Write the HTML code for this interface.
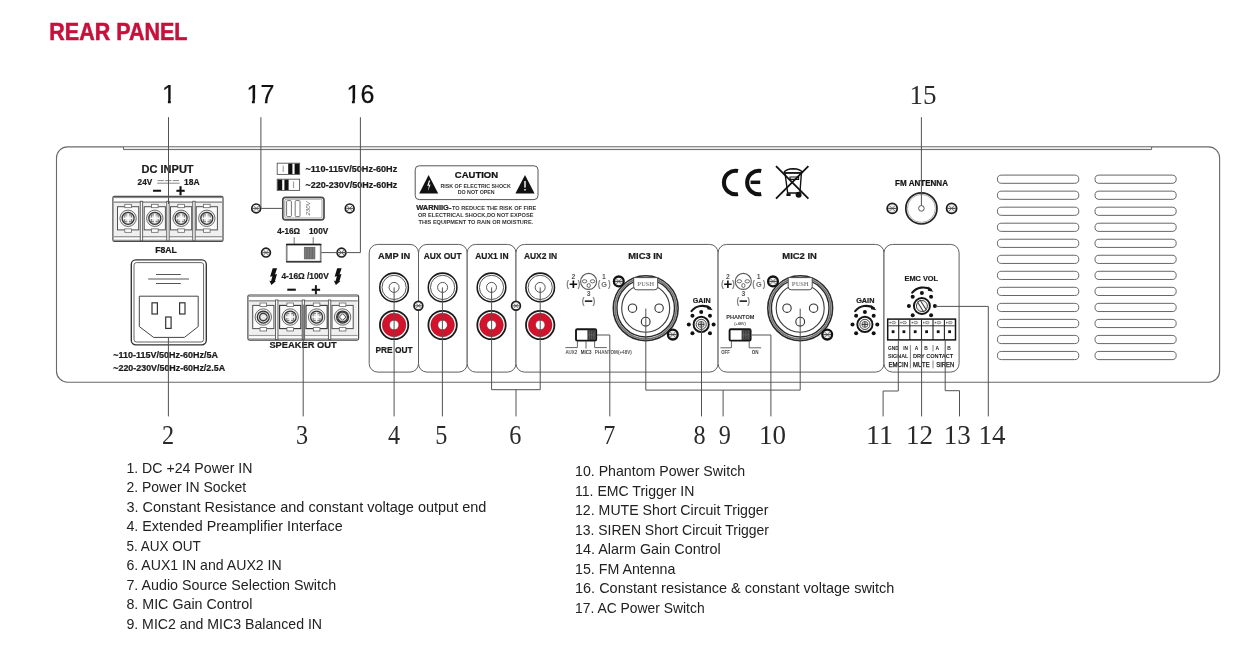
<!DOCTYPE html>
<html lang="en">
<head>
<meta charset="utf-8">
<title>Rear Panel</title>
<style>
html,body{margin:0;padding:0;background:#fff;}
body{width:1254px;height:648px;overflow:hidden;font-family:"Liberation Sans",Arial,sans-serif;}
svg{display:block;position:absolute;left:0;top:0;}
</style>
</head>
<body>
<svg width="1254" height="648" viewBox="0 0 1254 648" style="filter:blur(0.3px)">
<rect x="0" y="0" width="1254" height="648" fill="#ffffff"/>
<rect x="56.5" y="146.9" width="1163.1" height="235.29999999999998" rx="11" fill="#fff" stroke="#696969" stroke-width="1.1"/>
<rect x="123.5" y="147.4" width="1028.1" height="2.3" fill="#ececec" stroke="none"/>
<polyline points="123.5,146.9 123.5,149.6 1151.6,149.6 1151.6,146.9" stroke="#686868" stroke-width="1.0" fill="none" />
<text x="141.5" y="172.6" font-family='"Liberation Sans", Arial, sans-serif' font-size="10.6" font-weight="bold" fill="#1c1c1c" text-anchor="start" textLength="52.1" lengthAdjust="spacingAndGlyphs"  stroke="#1c1c1c" stroke-width="0.22">DC INPUT</text>
<text x="137.6" y="185.4" font-family='"Liberation Sans", Arial, sans-serif' font-size="9.4" font-weight="bold" fill="#1c1c1c" text-anchor="start" textLength="14.6" lengthAdjust="spacingAndGlyphs"  stroke="#1c1c1c" stroke-width="0.22">24V</text>
<text x="184.0" y="185.4" font-family='"Liberation Sans", Arial, sans-serif' font-size="9.4" font-weight="bold" fill="#1c1c1c" text-anchor="start" textLength="15.6" lengthAdjust="spacingAndGlyphs"  stroke="#1c1c1c" stroke-width="0.22">18A</text>
<line x1="157.6" y1="180.6" x2="163.79999999999998" y2="180.6" stroke="#666" stroke-width="0.8" />
<line x1="165.2" y1="180.6" x2="171.39999999999998" y2="180.6" stroke="#666" stroke-width="0.8" />
<line x1="172.79999999999998" y1="180.6" x2="178.99999999999997" y2="180.6" stroke="#666" stroke-width="0.8" />
<line x1="157.2" y1="183.2" x2="179.6" y2="183.2" stroke="#666" stroke-width="0.8" />
<text x="156.7" y="196.19" font-family='"Liberation Sans", Arial, sans-serif' font-size="15.6" font-weight="bold" fill="#111" text-anchor="middle" stroke="#111" stroke-width="0.3">−</text>
<text x="180.6" y="196.19" font-family='"Liberation Sans", Arial, sans-serif' font-size="15.6" font-weight="bold" fill="#111" text-anchor="middle" stroke="#111" stroke-width="0.3">+</text>
<rect x="112.9" y="196.3" width="110.1" height="45.099999999999994" rx="1.5" stroke="#4a4a4a" stroke-width="1.2" fill="#fff" />
<rect x="113.5" y="196.9" width="108.89999999999999" height="1.2" rx="0" stroke="none" stroke-width="0" fill="#8c8c8c" />
<rect x="113.9" y="201.3" width="108.1" height="1.8" rx="0" stroke="none" stroke-width="0" fill="#9c9c9c" />
<rect x="113.9" y="236.0" width="108.1" height="1.4" rx="0" stroke="none" stroke-width="0" fill="#9a9a9a" />
<rect x="113.9" y="239.70000000000002" width="108.1" height="1.2" rx="0" stroke="none" stroke-width="0" fill="#8c8c8c" />
<rect x="114.10000000000001" y="203.10000000000002" width="107.69999999999999" height="32.89999999999998" rx="0" stroke="none" stroke-width="0" fill="#efefef" />
<rect x="140.25" y="201.3" width="2.4" height="39.49999999999999" rx="0" stroke="#555" stroke-width="0.9" fill="#f6f6f6" />
<rect x="166.75" y="201.3" width="2.4" height="39.49999999999999" rx="0" stroke="#555" stroke-width="0.9" fill="#f6f6f6" />
<rect x="192.75" y="201.3" width="2.4" height="39.49999999999999" rx="0" stroke="#555" stroke-width="0.9" fill="#f6f6f6" />
<rect x="117.5" y="206.7" width="21.2" height="23.2" rx="0" stroke="#505050" stroke-width="1.0" fill="#fbfbfb" />
<rect x="124.8" y="204.3" width="6.6" height="3.4" rx="0" stroke="#666" stroke-width="0.8" fill="#fff" />
<rect x="124.8" y="228.9" width="6.6" height="3.4" rx="0" stroke="#666" stroke-width="0.8" fill="#fff" />
<circle cx="128.1" cy="218.3" r="8.2" stroke="#6a6a6a" stroke-width="1.0" fill="#f0f0f0" />
<circle cx="128.1" cy="218.3" r="6.0" stroke="#333" stroke-width="1.25" fill="#dcdcdc" />
<rect x="124.7" y="214.9" width="6.8" height="6.8" rx="0" stroke="#6a6a6a" stroke-width="0.8" fill="#dedede" />
<line x1="123.69999999999999" y1="218.3" x2="132.5" y2="218.3" stroke="#fff" stroke-width="1.5" />
<line x1="128.1" y1="213.9" x2="128.1" y2="222.70000000000002" stroke="#fff" stroke-width="1.5" />
<rect x="144.2" y="206.7" width="21.2" height="23.2" rx="0" stroke="#505050" stroke-width="1.0" fill="#fbfbfb" />
<rect x="151.5" y="204.3" width="6.6" height="3.4" rx="0" stroke="#666" stroke-width="0.8" fill="#fff" />
<rect x="151.5" y="228.9" width="6.6" height="3.4" rx="0" stroke="#666" stroke-width="0.8" fill="#fff" />
<circle cx="154.8" cy="218.3" r="8.2" stroke="#6a6a6a" stroke-width="1.0" fill="#f0f0f0" />
<circle cx="154.8" cy="218.3" r="6.0" stroke="#333" stroke-width="1.25" fill="#dcdcdc" />
<rect x="151.4" y="214.9" width="6.8" height="6.8" rx="0" stroke="#6a6a6a" stroke-width="0.8" fill="#dedede" />
<line x1="150.4" y1="218.3" x2="159.20000000000002" y2="218.3" stroke="#fff" stroke-width="1.5" />
<line x1="154.8" y1="213.9" x2="154.8" y2="222.70000000000002" stroke="#fff" stroke-width="1.5" />
<rect x="170.5" y="206.7" width="21.2" height="23.2" rx="0" stroke="#505050" stroke-width="1.0" fill="#fbfbfb" />
<rect x="177.8" y="204.3" width="6.6" height="3.4" rx="0" stroke="#666" stroke-width="0.8" fill="#fff" />
<rect x="177.8" y="228.9" width="6.6" height="3.4" rx="0" stroke="#666" stroke-width="0.8" fill="#fff" />
<circle cx="181.1" cy="218.3" r="8.2" stroke="#6a6a6a" stroke-width="1.0" fill="#f0f0f0" />
<circle cx="181.1" cy="218.3" r="6.0" stroke="#333" stroke-width="1.25" fill="#dcdcdc" />
<rect x="177.7" y="214.9" width="6.8" height="6.8" rx="0" stroke="#6a6a6a" stroke-width="0.8" fill="#dedede" />
<line x1="176.7" y1="218.3" x2="185.5" y2="218.3" stroke="#fff" stroke-width="1.5" />
<line x1="181.1" y1="213.9" x2="181.1" y2="222.70000000000002" stroke="#fff" stroke-width="1.5" />
<rect x="196.2" y="206.7" width="21.2" height="23.2" rx="0" stroke="#505050" stroke-width="1.0" fill="#fbfbfb" />
<rect x="203.5" y="204.3" width="6.6" height="3.4" rx="0" stroke="#666" stroke-width="0.8" fill="#fff" />
<rect x="203.5" y="228.9" width="6.6" height="3.4" rx="0" stroke="#666" stroke-width="0.8" fill="#fff" />
<circle cx="206.8" cy="218.3" r="8.2" stroke="#6a6a6a" stroke-width="1.0" fill="#f0f0f0" />
<circle cx="206.8" cy="218.3" r="6.0" stroke="#333" stroke-width="1.25" fill="#dcdcdc" />
<rect x="203.4" y="214.9" width="6.8" height="6.8" rx="0" stroke="#6a6a6a" stroke-width="0.8" fill="#dedede" />
<line x1="202.4" y1="218.3" x2="211.20000000000002" y2="218.3" stroke="#fff" stroke-width="1.5" />
<line x1="206.8" y1="213.9" x2="206.8" y2="222.70000000000002" stroke="#fff" stroke-width="1.5" />
<text x="155.2" y="253.0" font-family='"Liberation Sans", Arial, sans-serif' font-size="8.4" font-weight="bold" fill="#1c1c1c" text-anchor="start" textLength="21.7" lengthAdjust="spacingAndGlyphs"  stroke="#1c1c1c" stroke-width="0.22">F8AL</text>
<rect x="131.3" y="259.8" width="75.0" height="85.0" rx="4.5" stroke="#333" stroke-width="1.35" fill="#fff" />
<rect x="134.0" y="262.6" width="69.6" height="79.4" rx="2.5" stroke="#555" stroke-width="0.9" fill="none" />
<line x1="156.0" y1="274.5" x2="180.8" y2="274.5" stroke="#555" stroke-width="1.0" />
<line x1="148.2" y1="279.0" x2="189.0" y2="279.0" stroke="#555" stroke-width="1.0" />
<line x1="156.0" y1="283.5" x2="180.8" y2="283.5" stroke="#555" stroke-width="1.0" />
<polygon points="139.3,296.2 198.2,296.2 198.2,326.6 184.4,337.4 153.6,337.4 139.3,326.6" fill="#fff" stroke="#444" stroke-width="1"/>
<rect x="152.0" y="302.8" width="5.4" height="11.2" rx="0" stroke="#333" stroke-width="1.2" fill="#fff" />
<rect x="179.6" y="302.8" width="5.4" height="11.2" rx="0" stroke="#333" stroke-width="1.2" fill="#fff" />
<rect x="165.7" y="317.0" width="5.4" height="11.4" rx="0" stroke="#333" stroke-width="1.2" fill="#fff" />
<text x="113.3" y="357.6" font-family='"Liberation Sans", Arial, sans-serif' font-size="8.3" font-weight="bold" fill="#1c1c1c" text-anchor="start" textLength="104.6" lengthAdjust="spacingAndGlyphs"  stroke="#1c1c1c" stroke-width="0.22">~110-115V/50Hz-60Hz/5A</text>
<text x="113.3" y="371.2" font-family='"Liberation Sans", Arial, sans-serif' font-size="8.3" font-weight="bold" fill="#1c1c1c" text-anchor="start" textLength="111.8" lengthAdjust="spacingAndGlyphs"  stroke="#1c1c1c" stroke-width="0.22">~220-230V/50Hz-60Hz/2.5A</text>
<rect x="277.2" y="163.2" width="22.4" height="11.2" rx="0" stroke="#555" stroke-width="0.9" fill="#fff" />
<rect x="288.2" y="163.6" width="4.2" height="10.4" rx="0" stroke="none" stroke-width="0" fill="#111" />
<rect x="294.59999999999997" y="163.6" width="4.6" height="10.4" rx="0" stroke="none" stroke-width="0" fill="#111" />
<line x1="283.2" y1="165.6" x2="283.2" y2="172.0" stroke="#777" stroke-width="0.8" />
<rect x="277.2" y="179.2" width="22.4" height="11.2" rx="0" stroke="#555" stroke-width="0.9" fill="#fff" />
<rect x="277.59999999999997" y="179.6" width="4.6" height="10.4" rx="0" stroke="none" stroke-width="0" fill="#111" />
<rect x="284.4" y="179.6" width="4.2" height="10.4" rx="0" stroke="none" stroke-width="0" fill="#111" />
<line x1="293.59999999999997" y1="181.6" x2="293.59999999999997" y2="188.0" stroke="#777" stroke-width="0.8" />
<text x="305.5" y="172.2" font-family='"Liberation Sans", Arial, sans-serif' font-size="8.4" font-weight="bold" fill="#1c1c1c" text-anchor="start" textLength="91.7" lengthAdjust="spacingAndGlyphs"  stroke="#1c1c1c" stroke-width="0.22">~110-115V/50Hz-60Hz</text>
<text x="305.5" y="188.0" font-family='"Liberation Sans", Arial, sans-serif' font-size="8.4" font-weight="bold" fill="#1c1c1c" text-anchor="start" textLength="91.7" lengthAdjust="spacingAndGlyphs"  stroke="#1c1c1c" stroke-width="0.22">~220-230V/50Hz-60Hz</text>
<rect x="282.8" y="197.3" width="41.2" height="22.6" rx="2.8" stroke="#4a4a4a" stroke-width="1.7" fill="#fff" />
<rect x="284.8" y="199.2" width="37.2" height="18.8" rx="1.6" stroke="#888" stroke-width="0.8" fill="none" />
<rect x="286.6" y="200.6" width="4.8" height="16.0" rx="1" stroke="#666" stroke-width="0.9" fill="#fff" />
<rect x="295.2" y="200.6" width="4.8" height="16.0" rx="1" stroke="#666" stroke-width="0.9" fill="#fff" />
<text transform="translate(310.2,215.6) rotate(-90)" font-family='"Liberation Sans", Arial, sans-serif' font-size="6.2" font-style="italic" fill="#555" textLength="14.2" lengthAdjust="spacingAndGlyphs">230V</text>
<circle cx="256.2" cy="208.4" r="4.4" stroke="#1e1e1e" stroke-width="1.7" fill="#f4f4f4" />
<line x1="253.64399999999998" y1="205.844" x2="258.756" y2="210.95600000000002" stroke="#666" stroke-width="0.9" />
<line x1="253.64399999999998" y1="210.95600000000002" x2="258.756" y2="205.844" stroke="#666" stroke-width="0.9" />
<line x1="252.79999999999998" y1="208.4" x2="259.59999999999997" y2="208.4" stroke="#444" stroke-width="0.9" />
<circle cx="349.7" cy="208.4" r="4.4" stroke="#1e1e1e" stroke-width="1.7" fill="#f4f4f4" />
<line x1="347.144" y1="205.844" x2="352.256" y2="210.95600000000002" stroke="#666" stroke-width="0.9" />
<line x1="347.144" y1="210.95600000000002" x2="352.256" y2="205.844" stroke="#666" stroke-width="0.9" />
<line x1="346.3" y1="208.4" x2="353.09999999999997" y2="208.4" stroke="#444" stroke-width="0.9" />
<text x="277.2" y="234.0" font-family='"Liberation Sans", Arial, sans-serif' font-size="8.2" font-weight="bold" fill="#1c1c1c" text-anchor="start" textLength="22.8" lengthAdjust="spacingAndGlyphs"  stroke="#1c1c1c" stroke-width="0.22">4-16Ω</text>
<text x="309.0" y="234.0" font-family='"Liberation Sans", Arial, sans-serif' font-size="8.2" font-weight="bold" fill="#1c1c1c" text-anchor="start" textLength="19.2" lengthAdjust="spacingAndGlyphs"  stroke="#1c1c1c" stroke-width="0.22">100V</text>
<line x1="294.2" y1="237.2" x2="294.2" y2="244.4" stroke="#555" stroke-width="0.8" />
<line x1="313.2" y1="237.2" x2="313.2" y2="244.4" stroke="#555" stroke-width="0.8" />
<rect x="286.7" y="244.5" width="34.0" height="17.2" rx="0.8" stroke="#858585" stroke-width="1.7" fill="#fff" />
<line x1="286.0" y1="244.5" x2="321.4" y2="244.5" stroke="#1c1c1c" stroke-width="1.5" />
<line x1="286.0" y1="261.7" x2="321.4" y2="261.7" stroke="#3a3a3a" stroke-width="1.4" />
<rect x="304.3" y="247.3" width="10.6" height="11.6" rx="0" stroke="#5a5a5a" stroke-width="0.7" fill="#7d7d7d" />
<line x1="306.9" y1="247.6" x2="306.9" y2="258.6" stroke="#5a5a5a" stroke-width="0.7" />
<line x1="309.6" y1="247.6" x2="309.6" y2="258.6" stroke="#5a5a5a" stroke-width="0.7" />
<line x1="312.3" y1="247.6" x2="312.3" y2="258.6" stroke="#5a5a5a" stroke-width="0.7" />
<circle cx="266.0" cy="252.6" r="4.4" stroke="#1e1e1e" stroke-width="1.7" fill="#f4f4f4" />
<line x1="263.444" y1="250.04399999999998" x2="268.556" y2="255.156" stroke="#666" stroke-width="0.9" />
<line x1="263.444" y1="255.156" x2="268.556" y2="250.04399999999998" stroke="#666" stroke-width="0.9" />
<line x1="262.6" y1="252.6" x2="269.4" y2="252.6" stroke="#444" stroke-width="0.9" />
<circle cx="341.5" cy="252.6" r="4.4" stroke="#1e1e1e" stroke-width="1.7" fill="#f4f4f4" />
<line x1="338.944" y1="250.04399999999998" x2="344.056" y2="255.156" stroke="#666" stroke-width="0.9" />
<line x1="338.944" y1="255.156" x2="344.056" y2="250.04399999999998" stroke="#666" stroke-width="0.9" />
<line x1="338.1" y1="252.6" x2="344.9" y2="252.6" stroke="#444" stroke-width="0.9" />
<polygon transform="translate(270.1,268.2)" points="2.6,0 7.0,0 4.9,6.2 6.9,5.8 4.8,13.0 6.0,12.8 1.3,16.9 -0.8,12.4 0.9,13.0 2.3,8.0 0.0,8.6" fill="#111"/>
<polygon transform="translate(334.6,268.2)" points="2.6,0 7.0,0 4.9,6.2 6.9,5.8 4.8,13.0 6.0,12.8 1.3,16.9 -0.8,12.4 0.9,13.0 2.3,8.0 0.0,8.6" fill="#111"/>
<text x="281.4" y="279.3" font-family='"Liberation Sans", Arial, sans-serif' font-size="9.4" font-weight="bold" fill="#1c1c1c" text-anchor="start" textLength="47.4" lengthAdjust="spacingAndGlyphs"  stroke="#1c1c1c" stroke-width="0.22">4-16Ω /100V</text>
<text x="291.5" y="295.36" font-family='"Liberation Sans", Arial, sans-serif' font-size="16.4" font-weight="bold" fill="#111" text-anchor="middle" stroke="#111" stroke-width="0.3">−</text>
<text x="316.0" y="295.23" font-family='"Liberation Sans", Arial, sans-serif' font-size="16.0" font-weight="bold" fill="#111" text-anchor="middle" stroke="#111" stroke-width="0.3">+</text>
<rect x="247.9" y="295.0" width="110.70000000000002" height="45.10000000000002" rx="1.5" stroke="#4a4a4a" stroke-width="1.2" fill="#fff" />
<rect x="248.5" y="295.6" width="109.50000000000001" height="1.2" rx="0" stroke="none" stroke-width="0" fill="#8c8c8c" />
<rect x="248.9" y="300.0" width="108.70000000000002" height="1.8" rx="0" stroke="none" stroke-width="0" fill="#9c9c9c" />
<rect x="248.9" y="334.70000000000005" width="108.70000000000002" height="1.4" rx="0" stroke="none" stroke-width="0" fill="#9a9a9a" />
<rect x="248.9" y="338.40000000000003" width="108.70000000000002" height="1.2" rx="0" stroke="none" stroke-width="0" fill="#8c8c8c" />
<rect x="249.1" y="301.8" width="108.30000000000001" height="32.900000000000034" rx="0" stroke="none" stroke-width="0" fill="#efefef" />
<rect x="275.55" y="300.0" width="2.4" height="39.50000000000002" rx="0" stroke="#555" stroke-width="0.9" fill="#f6f6f6" />
<rect x="302.2" y="300.0" width="2.4" height="39.50000000000002" rx="0" stroke="#555" stroke-width="0.9" fill="#f6f6f6" />
<rect x="328.4" y="300.0" width="2.4" height="39.50000000000002" rx="0" stroke="#555" stroke-width="0.9" fill="#f6f6f6" />
<rect x="252.7" y="305.4" width="21.2" height="23.2" rx="0" stroke="#505050" stroke-width="1.0" fill="#fbfbfb" />
<rect x="260.0" y="303.0" width="6.6" height="3.4" rx="0" stroke="#666" stroke-width="0.8" fill="#fff" />
<rect x="260.0" y="327.6" width="6.6" height="3.4" rx="0" stroke="#666" stroke-width="0.8" fill="#fff" />
<circle cx="263.3" cy="317.0" r="8.2" stroke="#6a6a6a" stroke-width="1.0" fill="#f0f0f0" />
<circle cx="263.3" cy="317.0" r="6.0" stroke="#333" stroke-width="1.25" fill="#dcdcdc" />
<circle cx="263.3" cy="317.0" r="3.7" stroke="#3a3a3a" stroke-width="1.4" fill="#e4e4e4" />
<line x1="261.3" y1="317.0" x2="266.7" y2="317.0" stroke="#f4f4f4" stroke-width="1.4" />
<rect x="279.6" y="305.4" width="21.2" height="23.2" rx="0" stroke="#333" stroke-width="1.1" fill="#fbfbfb" />
<rect x="286.9" y="303.0" width="6.6" height="3.4" rx="0" stroke="#666" stroke-width="0.8" fill="#fff" />
<rect x="286.9" y="327.6" width="6.6" height="3.4" rx="0" stroke="#666" stroke-width="0.8" fill="#fff" />
<circle cx="290.2" cy="317.0" r="8.2" stroke="#6a6a6a" stroke-width="1.0" fill="#f0f0f0" />
<circle cx="290.2" cy="317.0" r="6.0" stroke="#333" stroke-width="1.25" fill="#dcdcdc" />
<rect x="286.8" y="313.6" width="6.8" height="6.8" rx="0" stroke="#6a6a6a" stroke-width="0.8" fill="#dedede" />
<line x1="285.8" y1="317.0" x2="294.59999999999997" y2="317.0" stroke="#fff" stroke-width="1.5" />
<line x1="290.2" y1="312.6" x2="290.2" y2="321.4" stroke="#fff" stroke-width="1.5" />
<rect x="306.0" y="305.4" width="21.2" height="23.2" rx="0" stroke="#333" stroke-width="1.1" fill="#fbfbfb" />
<rect x="313.3" y="303.0" width="6.6" height="3.4" rx="0" stroke="#666" stroke-width="0.8" fill="#fff" />
<rect x="313.3" y="327.6" width="6.6" height="3.4" rx="0" stroke="#666" stroke-width="0.8" fill="#fff" />
<circle cx="316.6" cy="317.0" r="8.2" stroke="#6a6a6a" stroke-width="1.0" fill="#f0f0f0" />
<circle cx="316.6" cy="317.0" r="6.0" stroke="#333" stroke-width="1.25" fill="#dcdcdc" />
<rect x="313.2" y="313.6" width="6.8" height="6.8" rx="0" stroke="#6a6a6a" stroke-width="0.8" fill="#dedede" />
<line x1="312.20000000000005" y1="317.0" x2="321.0" y2="317.0" stroke="#fff" stroke-width="1.5" />
<line x1="316.6" y1="312.6" x2="316.6" y2="321.4" stroke="#fff" stroke-width="1.5" />
<rect x="332.0" y="305.4" width="21.2" height="23.2" rx="0" stroke="#505050" stroke-width="1.0" fill="#fbfbfb" />
<rect x="339.3" y="303.0" width="6.6" height="3.4" rx="0" stroke="#666" stroke-width="0.8" fill="#fff" />
<rect x="339.3" y="327.6" width="6.6" height="3.4" rx="0" stroke="#666" stroke-width="0.8" fill="#fff" />
<circle cx="342.6" cy="317.0" r="8.2" stroke="#6a6a6a" stroke-width="1.0" fill="#f0f0f0" />
<circle cx="342.6" cy="317.0" r="6.0" stroke="#333" stroke-width="1.25" fill="#dcdcdc" />
<circle cx="342.6" cy="317.0" r="4.9" stroke="#3a3a3a" stroke-width="1.3" fill="#cfcfcf" />
<polyline points="342.6,313.7 345.90000000000003,317.0 342.6,320.3 339.3,317.0 342.6,313.7" stroke="#444" stroke-width="0.9" fill="#fff" />
<text x="269.4" y="347.9" font-family='"Liberation Sans", Arial, sans-serif' font-size="9.4" font-weight="bold" fill="#1c1c1c" text-anchor="start" textLength="67.2" lengthAdjust="spacingAndGlyphs"  stroke="#1c1c1c" stroke-width="0.22">SPEAKER OUT</text>
<rect x="369.2" y="244.4" width="49.30000000000001" height="127.70000000000002" rx="8.5" stroke="#5e5e5e" stroke-width="1.0" fill="#fff" />
<rect x="418.5" y="244.4" width="48.69999999999999" height="127.70000000000002" rx="8.5" stroke="#5e5e5e" stroke-width="1.0" fill="#fff" />
<rect x="467.2" y="244.4" width="48.80000000000001" height="127.70000000000002" rx="8.5" stroke="#5e5e5e" stroke-width="1.0" fill="#fff" />
<rect x="516.0" y="244.4" width="202.10000000000002" height="127.70000000000002" rx="8.5" stroke="#5e5e5e" stroke-width="1.0" fill="#fff" />
<rect x="718.1" y="244.4" width="165.89999999999998" height="127.70000000000002" rx="8.5" stroke="#5e5e5e" stroke-width="1.0" fill="#fff" />
<rect x="884.0" y="244.4" width="75.10000000000002" height="127.70000000000002" rx="8.5" stroke="#5e5e5e" stroke-width="1.0" fill="#fff" />
<text x="378.0" y="259.3" font-family='"Liberation Sans", Arial, sans-serif' font-size="9.4" font-weight="bold" fill="#1c1c1c" text-anchor="start" textLength="32.3" lengthAdjust="spacingAndGlyphs"  stroke="#1c1c1c" stroke-width="0.22">AMP IN</text>
<text x="423.7" y="259.3" font-family='"Liberation Sans", Arial, sans-serif' font-size="9.4" font-weight="bold" fill="#1c1c1c" text-anchor="start" textLength="37.9" lengthAdjust="spacingAndGlyphs"  stroke="#1c1c1c" stroke-width="0.22">AUX OUT</text>
<text x="475.2" y="259.3" font-family='"Liberation Sans", Arial, sans-serif' font-size="9.4" font-weight="bold" fill="#1c1c1c" text-anchor="start" textLength="33.4" lengthAdjust="spacingAndGlyphs"  stroke="#1c1c1c" stroke-width="0.22">AUX1 IN</text>
<text x="523.9" y="259.3" font-family='"Liberation Sans", Arial, sans-serif' font-size="9.4" font-weight="bold" fill="#1c1c1c" text-anchor="start" textLength="33.3" lengthAdjust="spacingAndGlyphs"  stroke="#1c1c1c" stroke-width="0.22">AUX2 IN</text>
<text x="628.3" y="259.3" font-family='"Liberation Sans", Arial, sans-serif' font-size="9.4" font-weight="bold" fill="#1c1c1c" text-anchor="start" textLength="34.3" lengthAdjust="spacingAndGlyphs"  stroke="#1c1c1c" stroke-width="0.22">MIC3 IN</text>
<text x="782.3" y="259.3" font-family='"Liberation Sans", Arial, sans-serif' font-size="9.4" font-weight="bold" fill="#1c1c1c" text-anchor="start" textLength="34.5" lengthAdjust="spacingAndGlyphs"  stroke="#1c1c1c" stroke-width="0.22">MIC2 IN</text>
<circle cx="394.1" cy="287.4" r="14.3" stroke="#1a1a1a" stroke-width="1.55" fill="#fff" />
<circle cx="394.1" cy="287.4" r="12.1" stroke="#444" stroke-width="0.9" fill="#fff" />
<circle cx="394.1" cy="287.4" r="5.0" stroke="#444" stroke-width="0.9" fill="#fff" />
<circle cx="394.1" cy="325.0" r="14.2" stroke="#1a1a1a" stroke-width="1.8" fill="#fff" />
<circle cx="394.1" cy="325.0" r="11.8" stroke="#7a1020" stroke-width="0.5" fill="#d4122b" />
<circle cx="394.1" cy="325.0" r="4.8" stroke="#8a1020" stroke-width="0.6" fill="#fff" />
<circle cx="442.6" cy="287.4" r="14.3" stroke="#1a1a1a" stroke-width="1.55" fill="#fff" />
<circle cx="442.6" cy="287.4" r="12.1" stroke="#444" stroke-width="0.9" fill="#fff" />
<circle cx="442.6" cy="287.4" r="5.0" stroke="#444" stroke-width="0.9" fill="#fff" />
<circle cx="442.6" cy="325.0" r="14.2" stroke="#1a1a1a" stroke-width="1.8" fill="#fff" />
<circle cx="442.6" cy="325.0" r="11.8" stroke="#7a1020" stroke-width="0.5" fill="#d4122b" />
<circle cx="442.6" cy="325.0" r="4.8" stroke="#8a1020" stroke-width="0.6" fill="#fff" />
<circle cx="491.5" cy="287.4" r="14.3" stroke="#1a1a1a" stroke-width="1.55" fill="#fff" />
<circle cx="491.5" cy="287.4" r="12.1" stroke="#444" stroke-width="0.9" fill="#fff" />
<circle cx="491.5" cy="287.4" r="5.0" stroke="#444" stroke-width="0.9" fill="#fff" />
<circle cx="491.5" cy="325.0" r="14.2" stroke="#1a1a1a" stroke-width="1.8" fill="#fff" />
<circle cx="491.5" cy="325.0" r="11.8" stroke="#7a1020" stroke-width="0.5" fill="#d4122b" />
<circle cx="491.5" cy="325.0" r="4.8" stroke="#8a1020" stroke-width="0.6" fill="#fff" />
<circle cx="540.2" cy="287.4" r="14.3" stroke="#1a1a1a" stroke-width="1.55" fill="#fff" />
<circle cx="540.2" cy="287.4" r="12.1" stroke="#444" stroke-width="0.9" fill="#fff" />
<circle cx="540.2" cy="287.4" r="5.0" stroke="#444" stroke-width="0.9" fill="#fff" />
<circle cx="540.2" cy="325.0" r="14.2" stroke="#1a1a1a" stroke-width="1.8" fill="#fff" />
<circle cx="540.2" cy="325.0" r="11.8" stroke="#7a1020" stroke-width="0.5" fill="#d4122b" />
<circle cx="540.2" cy="325.0" r="4.8" stroke="#8a1020" stroke-width="0.6" fill="#fff" />
<text x="375.5" y="353.0" font-family='"Liberation Sans", Arial, sans-serif' font-size="9.4" font-weight="bold" fill="#1c1c1c" text-anchor="start" textLength="37.0" lengthAdjust="spacingAndGlyphs"  stroke="#1c1c1c" stroke-width="0.22">PRE OUT</text>
<circle cx="418.4" cy="305.8" r="4.4" stroke="#1e1e1e" stroke-width="1.7" fill="#f4f4f4" />
<line x1="415.844" y1="303.244" x2="420.95599999999996" y2="308.356" stroke="#666" stroke-width="0.9" />
<line x1="415.844" y1="308.356" x2="420.95599999999996" y2="303.244" stroke="#666" stroke-width="0.9" />
<line x1="415.0" y1="305.8" x2="421.79999999999995" y2="305.8" stroke="#444" stroke-width="0.9" />
<circle cx="516.0" cy="305.8" r="4.4" stroke="#1e1e1e" stroke-width="1.7" fill="#f4f4f4" />
<line x1="513.444" y1="303.244" x2="518.556" y2="308.356" stroke="#666" stroke-width="0.9" />
<line x1="513.444" y1="308.356" x2="518.556" y2="303.244" stroke="#666" stroke-width="0.9" />
<line x1="512.6" y1="305.8" x2="519.4" y2="305.8" stroke="#444" stroke-width="0.9" />
<circle cx="588.6" cy="281.40000000000003" r="8.0" stroke="#5a5a5a" stroke-width="1.1" fill="#fff" />
<ellipse cx="584.6" cy="281.3" rx="2.3" ry="1.6" fill="#fff" stroke="#5a5a5a" stroke-width="0.9"/>
<ellipse cx="592.6" cy="281.3" rx="2.3" ry="1.6" fill="#fff" stroke="#5a5a5a" stroke-width="0.9"/>
<ellipse cx="588.7" cy="285.5" rx="1.6" ry="2.0" fill="#fff" stroke="#5a5a5a" stroke-width="0.9"/>
<text x="573.3000000000001" y="279.2" font-family='"Liberation Sans", Arial, sans-serif' font-size="6.8" font-weight="bold" fill="#555" text-anchor="middle" >2</text>
<text font-family='"Liberation Sans", Arial, sans-serif' font-weight="bold" text-anchor="middle"><tspan x="567.6" y="287.4" font-size="8.5" fill="#808080">(</tspan><tspan x="573.3" y="289.19" font-size="15.0" fill="#111">+</tspan><tspan x="578.8" y="287.4" font-size="8.5" fill="#808080">)</tspan></text>
<text x="604.0" y="279.0" font-family='"Liberation Sans", Arial, sans-serif' font-size="6.8" font-weight="bold" fill="#555" text-anchor="middle" >1</text>
<text font-family='"Liberation Sans", Arial, sans-serif' font-weight="bold" text-anchor="middle"><tspan x="599.0" y="287.0" font-size="8.2" fill="#808080">(</tspan><tspan x="604.2" y="286.7" font-size="7.4" fill="#6a6a6a">G</tspan><tspan x="609.4" y="287.0" font-size="8.2" fill="#808080">)</tspan></text>
<text x="588.6" y="296.2" font-family='"Liberation Sans", Arial, sans-serif' font-size="6.8" font-weight="bold" fill="#555" text-anchor="middle" >3</text>
<text font-family='"Liberation Sans", Arial, sans-serif' font-weight="bold" text-anchor="middle"><tspan x="583.2" y="303.7" font-size="8.5" fill="#808080">(</tspan><tspan x="588.7" y="306.13" font-size="14.8" fill="#222">−</tspan><tspan x="594.0" y="303.7" font-size="8.5" fill="#808080">)</tspan></text>
<circle cx="743.3" cy="281.40000000000003" r="8.0" stroke="#5a5a5a" stroke-width="1.1" fill="#fff" />
<ellipse cx="739.3" cy="281.3" rx="2.3" ry="1.6" fill="#fff" stroke="#5a5a5a" stroke-width="0.9"/>
<ellipse cx="747.3" cy="281.3" rx="2.3" ry="1.6" fill="#fff" stroke="#5a5a5a" stroke-width="0.9"/>
<ellipse cx="743.4" cy="285.5" rx="1.6" ry="2.0" fill="#fff" stroke="#5a5a5a" stroke-width="0.9"/>
<text x="728.0" y="279.2" font-family='"Liberation Sans", Arial, sans-serif' font-size="6.8" font-weight="bold" fill="#555" text-anchor="middle" >2</text>
<text font-family='"Liberation Sans", Arial, sans-serif' font-weight="bold" text-anchor="middle"><tspan x="722.3" y="287.4" font-size="8.5" fill="#808080">(</tspan><tspan x="728.0" y="289.19" font-size="15.0" fill="#111">+</tspan><tspan x="733.5" y="287.4" font-size="8.5" fill="#808080">)</tspan></text>
<text x="758.6999999999999" y="279.0" font-family='"Liberation Sans", Arial, sans-serif' font-size="6.8" font-weight="bold" fill="#555" text-anchor="middle" >1</text>
<text font-family='"Liberation Sans", Arial, sans-serif' font-weight="bold" text-anchor="middle"><tspan x="753.7" y="287.0" font-size="8.2" fill="#808080">(</tspan><tspan x="758.9" y="286.7" font-size="7.4" fill="#6a6a6a">G</tspan><tspan x="764.1" y="287.0" font-size="8.2" fill="#808080">)</tspan></text>
<text x="743.3" y="296.2" font-family='"Liberation Sans", Arial, sans-serif' font-size="6.8" font-weight="bold" fill="#555" text-anchor="middle" >3</text>
<text font-family='"Liberation Sans", Arial, sans-serif' font-weight="bold" text-anchor="middle"><tspan x="737.9" y="303.7" font-size="8.5" fill="#808080">(</tspan><tspan x="743.4" y="306.13" font-size="14.8" fill="#222">−</tspan><tspan x="748.7" y="303.7" font-size="8.5" fill="#808080">)</tspan></text>
<circle cx="645.7" cy="308.2" r="32.4" stroke="#2a2a2a" stroke-width="1.6" fill="#fff" />
<circle cx="645.7" cy="308.2" r="30.6" stroke="#777" stroke-width="1.7" fill="none" />
<circle cx="645.7" cy="308.2" r="28.8" stroke="#2a2a2a" stroke-width="1.4" fill="none" />
<circle cx="645.7" cy="308.2" r="24.0" stroke="#3a3a3a" stroke-width="1.1" fill="none" />
<path d="M633.7,277.59999999999997 h24 v9.2 q0,3 -3,3 h-18 q-3,0 -3,-3 z" fill="#fff" stroke="#4a4a4a" stroke-width="1.0"/>
<text x="637.3000000000001" y="285.7" font-family='"Liberation Serif", "Times New Roman", serif' font-size="5.8" font-weight="bold" fill="#888" text-anchor="start" textLength="16.8" lengthAdjust="spacingAndGlyphs" >PUSH</text>
<circle cx="632.5" cy="308.2" r="4.2" stroke="#333" stroke-width="1.1" fill="#fff" />
<circle cx="659.1" cy="308.2" r="4.2" stroke="#333" stroke-width="1.1" fill="#fff" />
<circle cx="645.7" cy="321.7" r="4.4" stroke="#333" stroke-width="1.1" fill="#fff" />
<circle cx="800.2" cy="308.2" r="32.4" stroke="#2a2a2a" stroke-width="1.6" fill="#fff" />
<circle cx="800.2" cy="308.2" r="30.6" stroke="#777" stroke-width="1.7" fill="none" />
<circle cx="800.2" cy="308.2" r="28.8" stroke="#2a2a2a" stroke-width="1.4" fill="none" />
<circle cx="800.2" cy="308.2" r="24.0" stroke="#3a3a3a" stroke-width="1.1" fill="none" />
<path d="M788.2,277.59999999999997 h24 v9.2 q0,3 -3,3 h-18 q-3,0 -3,-3 z" fill="#fff" stroke="#4a4a4a" stroke-width="1.0"/>
<text x="791.8000000000001" y="285.7" font-family='"Liberation Serif", "Times New Roman", serif' font-size="5.8" font-weight="bold" fill="#888" text-anchor="start" textLength="16.8" lengthAdjust="spacingAndGlyphs" >PUSH</text>
<circle cx="787.0" cy="308.2" r="4.2" stroke="#333" stroke-width="1.1" fill="#fff" />
<circle cx="813.6" cy="308.2" r="4.2" stroke="#333" stroke-width="1.1" fill="#fff" />
<circle cx="800.2" cy="321.7" r="4.4" stroke="#333" stroke-width="1.1" fill="#fff" />
<circle cx="618.8" cy="281.4" r="4.9" stroke="#111" stroke-width="2.3" fill="#ededed" />
<line x1="616.0999999999999" y1="278.7" x2="621.5" y2="284.09999999999997" stroke="#666" stroke-width="0.9" />
<line x1="616.0999999999999" y1="284.09999999999997" x2="621.5" y2="278.7" stroke="#666" stroke-width="0.9" />
<line x1="614.9" y1="281.4" x2="622.6999999999999" y2="281.4" stroke="#444" stroke-width="1.0" />
<circle cx="672.8" cy="334.6" r="4.9" stroke="#111" stroke-width="2.3" fill="#ededed" />
<line x1="670.0999999999999" y1="331.90000000000003" x2="675.5" y2="337.3" stroke="#666" stroke-width="0.9" />
<line x1="670.0999999999999" y1="337.3" x2="675.5" y2="331.90000000000003" stroke="#666" stroke-width="0.9" />
<line x1="668.9" y1="334.6" x2="676.6999999999999" y2="334.6" stroke="#444" stroke-width="1.0" />
<circle cx="773.0" cy="281.4" r="4.9" stroke="#111" stroke-width="2.3" fill="#ededed" />
<line x1="770.3" y1="278.7" x2="775.7" y2="284.09999999999997" stroke="#666" stroke-width="0.9" />
<line x1="770.3" y1="284.09999999999997" x2="775.7" y2="278.7" stroke="#666" stroke-width="0.9" />
<line x1="769.1" y1="281.4" x2="776.9" y2="281.4" stroke="#444" stroke-width="1.0" />
<circle cx="827.2" cy="334.6" r="4.9" stroke="#111" stroke-width="2.3" fill="#ededed" />
<line x1="824.5" y1="331.90000000000003" x2="829.9000000000001" y2="337.3" stroke="#666" stroke-width="0.9" />
<line x1="824.5" y1="337.3" x2="829.9000000000001" y2="331.90000000000003" stroke="#666" stroke-width="0.9" />
<line x1="823.3000000000001" y1="334.6" x2="831.1" y2="334.6" stroke="#444" stroke-width="1.0" />
<text x="692.8" y="303.0" font-family='"Liberation Sans", Arial, sans-serif' font-size="7.2" font-weight="bold" fill="#1c1c1c" text-anchor="start" textLength="17.8" lengthAdjust="spacingAndGlyphs"  stroke="#1c1c1c" stroke-width="0.22">GAIN</text>
<circle cx="713.6" cy="324.4" r="2.0" stroke="none" stroke-width="0" fill="#111" />
<circle cx="709.97" cy="315.63" r="2.0" stroke="none" stroke-width="0" fill="#111" />
<circle cx="701.2" cy="312.0" r="2.0" stroke="none" stroke-width="0" fill="#111" />
<circle cx="692.43" cy="315.63" r="2.0" stroke="none" stroke-width="0" fill="#111" />
<circle cx="688.8" cy="324.4" r="2.0" stroke="none" stroke-width="0" fill="#111" />
<circle cx="692.43" cy="333.17" r="2.0" stroke="none" stroke-width="0" fill="#111" />
<circle cx="709.97" cy="333.17" r="2.0" stroke="none" stroke-width="0" fill="#111" />
<circle cx="701.2" cy="324.4" r="7.6" stroke="#151515" stroke-width="1.9" fill="#fff" />
<circle cx="701.2" cy="324.4" r="5.1" stroke="#444" stroke-width="1.0" fill="#f2f2f2" />
<circle cx="701.2" cy="324.4" r="3.0" stroke="#555" stroke-width="0.8" fill="#ddd" />
<line x1="698.2" y1="324.4" x2="704.2" y2="324.4" stroke="#333" stroke-width="1.0" />
<line x1="701.2" y1="321.4" x2="701.2" y2="327.4" stroke="#333" stroke-width="1.0" />
<path d="M691.50,311.10 A14.2,14.2 0 0 1 710.20,308.10" stroke="#151515" stroke-width="2.1" fill="none" stroke-linecap="round"/>
<polygon points="707.80,305.00 712.80,310.20 707.20,309.20" fill="#151515"/>
<text x="856.2" y="303.0" font-family='"Liberation Sans", Arial, sans-serif' font-size="7.2" font-weight="bold" fill="#1c1c1c" text-anchor="start" textLength="18.2" lengthAdjust="spacingAndGlyphs"  stroke="#1c1c1c" stroke-width="0.22">GAIN</text>
<circle cx="877.3" cy="324.4" r="2.0" stroke="none" stroke-width="0" fill="#111" />
<circle cx="873.67" cy="315.63" r="2.0" stroke="none" stroke-width="0" fill="#111" />
<circle cx="864.9" cy="312.0" r="2.0" stroke="none" stroke-width="0" fill="#111" />
<circle cx="856.13" cy="315.63" r="2.0" stroke="none" stroke-width="0" fill="#111" />
<circle cx="852.5" cy="324.4" r="2.0" stroke="none" stroke-width="0" fill="#111" />
<circle cx="856.13" cy="333.17" r="2.0" stroke="none" stroke-width="0" fill="#111" />
<circle cx="873.67" cy="333.17" r="2.0" stroke="none" stroke-width="0" fill="#111" />
<circle cx="864.9" cy="324.4" r="7.6" stroke="#151515" stroke-width="1.9" fill="#fff" />
<circle cx="864.9" cy="324.4" r="5.1" stroke="#444" stroke-width="1.0" fill="#f2f2f2" />
<circle cx="864.9" cy="324.4" r="3.0" stroke="#555" stroke-width="0.8" fill="#ddd" />
<line x1="861.9" y1="324.4" x2="867.9" y2="324.4" stroke="#333" stroke-width="1.0" />
<line x1="864.9" y1="321.4" x2="864.9" y2="327.4" stroke="#333" stroke-width="1.0" />
<path d="M855.20,311.10 A14.2,14.2 0 0 1 873.90,308.10" stroke="#151515" stroke-width="2.1" fill="none" stroke-linecap="round"/>
<polygon points="871.50,305.00 876.50,310.20 870.90,309.20" fill="#151515"/>
<rect x="576.0" y="329.2" width="20.200000000000045" height="11.400000000000034" rx="1.2" stroke="#151515" stroke-width="1.9" fill="#fff" />
<rect x="587.4" y="329.8" width="8.400000000000068" height="10.200000000000035" rx="0" stroke="none" stroke-width="0" fill="#3c3c3c" />
<line x1="589.4" y1="330.8" x2="589.4" y2="339.0" stroke="#777" stroke-width="0.6" />
<line x1="591.7" y1="330.8" x2="591.7" y2="339.0" stroke="#777" stroke-width="0.6" />
<line x1="594.0" y1="330.8" x2="594.0" y2="339.0" stroke="#777" stroke-width="0.6" />
<line x1="588.0" y1="334.9" x2="595.0" y2="334.9" stroke="#777" stroke-width="0.5" />
<polyline points="577.4,341 577.4,347.6 565.4,347.6" stroke="#555" stroke-width="0.9" fill="none" />
<line x1="586.0" y1="341" x2="586.0" y2="348.6" stroke="#555" stroke-width="0.9" />
<polyline points="594.6,341 594.6,347.6 606.8,347.6" stroke="#555" stroke-width="0.9" fill="none" />
<text x="565.4" y="353.8" font-family='"Liberation Sans", Arial, sans-serif' font-size="4.5" font-weight="bold" fill="#555" text-anchor="start" textLength="11.9" lengthAdjust="spacingAndGlyphs" >AUX2</text>
<text x="580.8" y="353.8" font-family='"Liberation Sans", Arial, sans-serif' font-size="4.5" font-weight="bold" fill="#333" text-anchor="start" textLength="10.8" lengthAdjust="spacingAndGlyphs" >MIC3</text>
<text x="594.8" y="353.8" font-family='"Liberation Sans", Arial, sans-serif' font-size="4.5" font-weight="bold" fill="#555" text-anchor="start" textLength="37.0" lengthAdjust="spacingAndGlyphs" >PHANTOM(+48V)</text>
<text x="726.3" y="318.6" font-family='"Liberation Sans", Arial, sans-serif' font-size="5.6" font-weight="bold" fill="#2a2a2a" text-anchor="start" textLength="28.1" lengthAdjust="spacingAndGlyphs" >PHANTOM</text>
<text x="734.2" y="324.8" font-family='"Liberation Sans", Arial, sans-serif' font-size="3.8" font-weight="bold" fill="#555" text-anchor="start" textLength="11.6" lengthAdjust="spacingAndGlyphs" >(+48V)</text>
<rect x="729.6" y="329.2" width="21.0" height="11.400000000000034" rx="1.2" stroke="#151515" stroke-width="1.9" fill="#fff" />
<rect x="741.6" y="329.8" width="8.6" height="10.200000000000035" rx="0" stroke="none" stroke-width="0" fill="#3c3c3c" />
<line x1="743.6" y1="330.8" x2="743.6" y2="339.0" stroke="#777" stroke-width="0.6" />
<line x1="745.9" y1="330.8" x2="745.9" y2="339.0" stroke="#777" stroke-width="0.6" />
<line x1="748.2" y1="330.8" x2="748.2" y2="339.0" stroke="#777" stroke-width="0.6" />
<line x1="742.2" y1="334.9" x2="749.4" y2="334.9" stroke="#777" stroke-width="0.5" />
<polyline points="731.4,341 731.4,347.8 720.4,347.8" stroke="#555" stroke-width="0.9" fill="none" />
<polyline points="749.2,341 749.2,347.8 761.2,347.8" stroke="#555" stroke-width="0.9" fill="none" />
<text x="721.2" y="354.2" font-family='"Liberation Sans", Arial, sans-serif' font-size="4.6" font-weight="bold" fill="#444" text-anchor="start" textLength="8.6" lengthAdjust="spacingAndGlyphs" >OFF</text>
<text x="751.8" y="354.2" font-family='"Liberation Sans", Arial, sans-serif' font-size="4.6" font-weight="bold" fill="#444" text-anchor="start" textLength="6.8" lengthAdjust="spacingAndGlyphs" >ON</text>
<text x="904.6" y="281.4" font-family='"Liberation Sans", Arial, sans-serif' font-size="8.0" font-weight="bold" fill="#1c1c1c" text-anchor="start" textLength="33.4" lengthAdjust="spacingAndGlyphs"  stroke="#1c1c1c" stroke-width="0.22">EMC VOL</text>
<circle cx="934.9" cy="306.0" r="2.0" stroke="none" stroke-width="0" fill="#111" />
<circle cx="931.09" cy="296.81" r="2.0" stroke="none" stroke-width="0" fill="#111" />
<circle cx="921.9" cy="293.0" r="2.0" stroke="none" stroke-width="0" fill="#111" />
<circle cx="912.71" cy="296.81" r="2.0" stroke="none" stroke-width="0" fill="#111" />
<circle cx="908.9" cy="306.0" r="2.0" stroke="none" stroke-width="0" fill="#111" />
<circle cx="912.71" cy="315.19" r="2.0" stroke="none" stroke-width="0" fill="#111" />
<circle cx="931.09" cy="315.19" r="2.0" stroke="none" stroke-width="0" fill="#111" />
<circle cx="921.9" cy="306.0" r="8.0" stroke="#151515" stroke-width="1.9" fill="#fff" />
<circle cx="921.9" cy="306.0" r="5.5" stroke="#444" stroke-width="1.0" fill="#f2f2f2" />
<g transform="rotate(58 921.9 306.0)"><rect x="916.3" y="304.4" width="11.2" height="3.2" fill="#fff" stroke="#333" stroke-width="1.0"/></g>
<path d="M912.20,292.70 A14.2,14.2 0 0 1 930.90,289.70" stroke="#151515" stroke-width="2.1" fill="none" stroke-linecap="round"/>
<polygon points="928.50,286.60 933.50,291.80 927.90,290.80" fill="#151515"/>
<rect x="887.7" y="319.1" width="67.8" height="20.8" rx="0" stroke="#151515" stroke-width="1.5" fill="#fff" />
<line x1="888.4" y1="325.8" x2="954.8" y2="325.8" stroke="#222" stroke-width="0.9" />
<line x1="898.7" y1="319.6" x2="898.7" y2="340" stroke="#222" stroke-width="1.1" />
<line x1="909.8" y1="319.6" x2="909.8" y2="340" stroke="#222" stroke-width="1.1" />
<line x1="921.5" y1="319.6" x2="921.5" y2="340" stroke="#222" stroke-width="1.1" />
<line x1="933.0" y1="319.6" x2="933.0" y2="340" stroke="#222" stroke-width="1.1" />
<line x1="944.4" y1="319.6" x2="944.4" y2="340" stroke="#222" stroke-width="1.1" />
<rect x="891.7" y="330.3" width="2.8" height="2.8" rx="0" stroke="none" stroke-width="0" fill="#111" />
<ellipse cx="893.7" cy="322.6" rx="2.0" ry="1.2" fill="#ddd" stroke="#555" stroke-width="0.6"/>
<rect x="889.5" y="321.8" width="1.4" height="1.6" rx="0" stroke="none" stroke-width="0" fill="#666" />
<rect x="902.5" y="330.3" width="2.8" height="2.8" rx="0" stroke="none" stroke-width="0" fill="#111" />
<ellipse cx="904.5" cy="322.6" rx="2.0" ry="1.2" fill="#ddd" stroke="#555" stroke-width="0.6"/>
<rect x="900.3" y="321.8" width="1.4" height="1.6" rx="0" stroke="none" stroke-width="0" fill="#666" />
<rect x="913.8000000000001" y="330.3" width="2.8" height="2.8" rx="0" stroke="none" stroke-width="0" fill="#111" />
<ellipse cx="915.8000000000001" cy="322.6" rx="2.0" ry="1.2" fill="#ddd" stroke="#555" stroke-width="0.6"/>
<rect x="911.6" y="321.8" width="1.4" height="1.6" rx="0" stroke="none" stroke-width="0" fill="#666" />
<rect x="925.2" y="330.3" width="2.8" height="2.8" rx="0" stroke="none" stroke-width="0" fill="#111" />
<ellipse cx="927.2" cy="322.6" rx="2.0" ry="1.2" fill="#ddd" stroke="#555" stroke-width="0.6"/>
<rect x="923.0" y="321.8" width="1.4" height="1.6" rx="0" stroke="none" stroke-width="0" fill="#666" />
<rect x="936.8000000000001" y="330.3" width="2.8" height="2.8" rx="0" stroke="none" stroke-width="0" fill="#111" />
<ellipse cx="938.8000000000001" cy="322.6" rx="2.0" ry="1.2" fill="#ddd" stroke="#555" stroke-width="0.6"/>
<rect x="934.6" y="321.8" width="1.4" height="1.6" rx="0" stroke="none" stroke-width="0" fill="#666" />
<rect x="948.2" y="330.3" width="2.8" height="2.8" rx="0" stroke="none" stroke-width="0" fill="#111" />
<ellipse cx="950.2" cy="322.6" rx="2.0" ry="1.2" fill="#ddd" stroke="#555" stroke-width="0.6"/>
<rect x="946.0" y="321.8" width="1.4" height="1.6" rx="0" stroke="none" stroke-width="0" fill="#666" />
<text x="888.0" y="349.5" font-family='"Liberation Sans", Arial, sans-serif' font-size="4.9" font-weight="bold" fill="#1a1a1a" text-anchor="start" textLength="10.6" lengthAdjust="spacingAndGlyphs" >GND</text>
<text x="903.3" y="349.5" font-family='"Liberation Sans", Arial, sans-serif' font-size="4.9" font-weight="bold" fill="#1a1a1a" text-anchor="start" textLength="4.7" lengthAdjust="spacingAndGlyphs" >IN</text>
<text x="914.8" y="349.5" font-family='"Liberation Sans", Arial, sans-serif' font-size="4.9" font-weight="bold" fill="#1a1a1a" text-anchor="start" >A</text>
<text x="924.2" y="349.5" font-family='"Liberation Sans", Arial, sans-serif' font-size="4.9" font-weight="bold" fill="#1a1a1a" text-anchor="start" >B</text>
<text x="935.6" y="349.5" font-family='"Liberation Sans", Arial, sans-serif' font-size="4.9" font-weight="bold" fill="#1a1a1a" text-anchor="start" >A</text>
<text x="947.2" y="349.5" font-family='"Liberation Sans", Arial, sans-serif' font-size="4.9" font-weight="bold" fill="#1a1a1a" text-anchor="start" >B</text>
<text x="888.0" y="358.0" font-family='"Liberation Sans", Arial, sans-serif' font-size="5.2" font-weight="bold" fill="#1a1a1a" text-anchor="start" textLength="20.3" lengthAdjust="spacingAndGlyphs" >SIGNAL</text>
<text x="913.0" y="358.0" font-family='"Liberation Sans", Arial, sans-serif' font-size="5.2" font-weight="bold" fill="#1a1a1a" text-anchor="start" textLength="40.3" lengthAdjust="spacingAndGlyphs" >DRY CONTACT</text>
<text x="888.5" y="367.0" font-family='"Liberation Sans", Arial, sans-serif' font-size="6.4" font-weight="normal" fill="#111" text-anchor="start" textLength="19.5" lengthAdjust="spacingAndGlyphs" stroke="#111" stroke-width="0.25">EMCIN</text>
<text x="913.0" y="367.0" font-family='"Liberation Sans", Arial, sans-serif' font-size="6.4" font-weight="normal" fill="#111" text-anchor="start" textLength="16.6" lengthAdjust="spacingAndGlyphs" stroke="#111" stroke-width="0.25">MUTE</text>
<text x="936.3" y="367.0" font-family='"Liberation Sans", Arial, sans-serif' font-size="6.4" font-weight="normal" fill="#111" text-anchor="start" textLength="18.0" lengthAdjust="spacingAndGlyphs" stroke="#111" stroke-width="0.25">SIREN</text>
<line x1="910.4" y1="345.0" x2="910.4" y2="368.4" stroke="#666" stroke-width="0.8" />
<line x1="933.0" y1="345.0" x2="933.0" y2="351.4" stroke="#666" stroke-width="0.8" />
<line x1="933.0" y1="360.6" x2="933.0" y2="368.4" stroke="#666" stroke-width="0.8" />
<rect x="415.2" y="165.8" width="122.8" height="33.8" rx="4" stroke="#555" stroke-width="1.0" fill="#fff" />
<text x="454.8" y="178.4" font-family='"Liberation Sans", Arial, sans-serif' font-size="9.6" font-weight="bold" fill="#111" text-anchor="start" textLength="43.3" lengthAdjust="spacingAndGlyphs"  stroke="#111" stroke-width="0.22">CAUTION</text>
<text x="440.4" y="187.5" font-family='"Liberation Sans", Arial, sans-serif' font-size="4.8" font-weight="bold" fill="#333" text-anchor="start" textLength="70.4" lengthAdjust="spacingAndGlyphs" >RISK OF ELECTRIC SHOCK</text>
<text x="457.7" y="193.8" font-family='"Liberation Sans", Arial, sans-serif' font-size="4.8" font-weight="bold" fill="#333" text-anchor="start" textLength="37.0" lengthAdjust="spacingAndGlyphs" >DO NOT OPEN</text>
<polygon points="428.6,174.9 438.2,193.5 419.2,193.5" fill="#111"/>
<polygon points="428.9,180.6 427.2,186.0 429.0,185.6 427.8,191.4 430.6,184.4 428.8,184.8 430.2,180.6" fill="#fff"/>
<polygon points="525.0,174.9 534.6,193.5 515.4,193.5" fill="#111"/>
<rect x="524.3" y="181.0" width="1.4" height="6.6" rx="0" stroke="none" stroke-width="0" fill="#fff" />
<rect x="524.3" y="189.0" width="1.4" height="1.6" rx="0" stroke="none" stroke-width="0" fill="#fff" />
<text x="416.2" y="209.6" font-family='"Liberation Sans", Arial, sans-serif' font-size="7.0" font-weight="bold" fill="#222" text-anchor="start" textLength="35.2" lengthAdjust="spacingAndGlyphs"  stroke="#222" stroke-width="0.22">WARNIIG-</text>
<text x="452.0" y="209.6" font-family='"Liberation Sans", Arial, sans-serif' font-size="4.9" font-weight="bold" fill="#333" text-anchor="start" textLength="84.3" lengthAdjust="spacingAndGlyphs" >TO REDUCE THE RISK OF FIRE</text>
<text x="418.0" y="216.8" font-family='"Liberation Sans", Arial, sans-serif' font-size="4.8" font-weight="bold" fill="#333" text-anchor="start" textLength="115.4" lengthAdjust="spacingAndGlyphs" >OR ELECTRICAL SHOCK,DO NOT EXPOSE</text>
<text x="418.6" y="224.3" font-family='"Liberation Sans", Arial, sans-serif' font-size="4.8" font-weight="bold" fill="#333" text-anchor="start" textLength="114.6" lengthAdjust="spacingAndGlyphs" >THIS EQUIPMENT TO RAIN OR MOISTURE.</text>
<path d="M738.0,171.1 A11.65,11.65 0 1 0 738.0,193.9" fill="none" stroke="#111" stroke-width="4.1"/>
<path d="M761.2,171.1 A11.65,11.65 0 1 0 761.2,193.9" fill="none" stroke="#111" stroke-width="4.1"/>
<line x1="750.6" y1="182.3" x2="760.2" y2="182.3" stroke="#111" stroke-width="3.5" />
<g stroke="#111" fill="none"><path d="M776.0,166.2 L808.4,198.6 M808.4,166.2 L776.0,198.6" stroke-width="1.8"/><path d="M785.0,173.0 h16.4 l-1.5,20.0 h-12.2 z" stroke-width="1.4"/><path d="M783.8,172.6 q2.0,-3.6 9.4,-3.8 q7.4,0.2 9.4,3.8" stroke-width="1.5"/><path d="M784.2,172.8 h18.2" stroke-width="1.2"/><path d="M790.0,177.0 h8.6 v2.4 h-8.6 z" stroke-width="1.1"/><rect x="786.4" y="193.4" width="4.2" height="2.6" fill="#111" stroke="none"/><circle cx="798.6" cy="194.8" r="3.0" fill="#111" stroke="none"/></g>
<text x="895.1" y="185.8" font-family='"Liberation Sans", Arial, sans-serif' font-size="9.2" font-weight="bold" fill="#111" text-anchor="start" textLength="52.9" lengthAdjust="spacingAndGlyphs"  stroke="#111" stroke-width="0.22">FM ANTENNA</text>
<circle cx="921.4" cy="208.4" r="15.6" stroke="#222" stroke-width="1.7" fill="#fff" />
<circle cx="921.4" cy="208.4" r="14.0" stroke="#888" stroke-width="0.7" fill="none" />
<circle cx="921.4" cy="208.4" r="2.8" stroke="#444" stroke-width="0.9" fill="#fff" />
<circle cx="892.2" cy="208.4" r="5.0" stroke="#1a1a1a" stroke-width="1.8" fill="#ededed" />
<line x1="889.248" y1="205.448" x2="895.152" y2="211.352" stroke="#666" stroke-width="0.9" />
<line x1="889.248" y1="211.352" x2="895.152" y2="205.448" stroke="#666" stroke-width="0.9" />
<line x1="888.2" y1="208.4" x2="896.2" y2="208.4" stroke="#444" stroke-width="1.0" />
<circle cx="951.6" cy="208.4" r="5.0" stroke="#1a1a1a" stroke-width="1.8" fill="#ededed" />
<line x1="948.648" y1="205.448" x2="954.552" y2="211.352" stroke="#666" stroke-width="0.9" />
<line x1="948.648" y1="211.352" x2="954.552" y2="205.448" stroke="#666" stroke-width="0.9" />
<line x1="947.6" y1="208.4" x2="955.6" y2="208.4" stroke="#444" stroke-width="1.0" />
<rect x="997.4" y="175.1" width="81.4" height="8.2" rx="4.1" stroke="#666" stroke-width="1.0" fill="#fff" />
<rect x="1095.0" y="175.1" width="81.2" height="8.2" rx="4.1" stroke="#666" stroke-width="1.0" fill="#fff" />
<rect x="997.4" y="191.13" width="81.4" height="8.2" rx="4.1" stroke="#666" stroke-width="1.0" fill="#fff" />
<rect x="1095.0" y="191.13" width="81.2" height="8.2" rx="4.1" stroke="#666" stroke-width="1.0" fill="#fff" />
<rect x="997.4" y="207.16" width="81.4" height="8.2" rx="4.1" stroke="#666" stroke-width="1.0" fill="#fff" />
<rect x="1095.0" y="207.16" width="81.2" height="8.2" rx="4.1" stroke="#666" stroke-width="1.0" fill="#fff" />
<rect x="997.4" y="223.19" width="81.4" height="8.2" rx="4.1" stroke="#666" stroke-width="1.0" fill="#fff" />
<rect x="1095.0" y="223.19" width="81.2" height="8.2" rx="4.1" stroke="#666" stroke-width="1.0" fill="#fff" />
<rect x="997.4" y="239.22" width="81.4" height="8.2" rx="4.1" stroke="#666" stroke-width="1.0" fill="#fff" />
<rect x="1095.0" y="239.22" width="81.2" height="8.2" rx="4.1" stroke="#666" stroke-width="1.0" fill="#fff" />
<rect x="997.4" y="255.25" width="81.4" height="8.2" rx="4.1" stroke="#666" stroke-width="1.0" fill="#fff" />
<rect x="1095.0" y="255.25" width="81.2" height="8.2" rx="4.1" stroke="#666" stroke-width="1.0" fill="#fff" />
<rect x="997.4" y="271.28" width="81.4" height="8.2" rx="4.1" stroke="#666" stroke-width="1.0" fill="#fff" />
<rect x="1095.0" y="271.28" width="81.2" height="8.2" rx="4.1" stroke="#666" stroke-width="1.0" fill="#fff" />
<rect x="997.4" y="287.31" width="81.4" height="8.2" rx="4.1" stroke="#666" stroke-width="1.0" fill="#fff" />
<rect x="1095.0" y="287.31" width="81.2" height="8.2" rx="4.1" stroke="#666" stroke-width="1.0" fill="#fff" />
<rect x="997.4" y="303.34" width="81.4" height="8.2" rx="4.1" stroke="#666" stroke-width="1.0" fill="#fff" />
<rect x="1095.0" y="303.34" width="81.2" height="8.2" rx="4.1" stroke="#666" stroke-width="1.0" fill="#fff" />
<rect x="997.4" y="319.37" width="81.4" height="8.2" rx="4.1" stroke="#666" stroke-width="1.0" fill="#fff" />
<rect x="1095.0" y="319.37" width="81.2" height="8.2" rx="4.1" stroke="#666" stroke-width="1.0" fill="#fff" />
<rect x="997.4" y="335.4" width="81.4" height="8.2" rx="4.1" stroke="#666" stroke-width="1.0" fill="#fff" />
<rect x="1095.0" y="335.4" width="81.2" height="8.2" rx="4.1" stroke="#666" stroke-width="1.0" fill="#fff" />
<rect x="997.4" y="351.43" width="81.4" height="8.2" rx="4.1" stroke="#666" stroke-width="1.0" fill="#fff" />
<rect x="1095.0" y="351.43" width="81.2" height="8.2" rx="4.1" stroke="#666" stroke-width="1.0" fill="#fff" />
<line x1="168.5" y1="117.2" x2="168.5" y2="204.0" stroke="#525252" stroke-width="1.0" />
<polyline points="260.9,117.2 260.9,208.4 282.8,208.4" stroke="#525252" stroke-width="1.0" fill="none" />
<polyline points="360.4,117.2 360.4,252.6 321.4,252.6" stroke="#525252" stroke-width="1.0" fill="none" />
<line x1="921.4" y1="117.2" x2="921.4" y2="205.6" stroke="#525252" stroke-width="1.0" />
<line x1="168.4" y1="337.4" x2="168.4" y2="416.4" stroke="#525252" stroke-width="1.0" />
<line x1="303.2" y1="304.6" x2="303.2" y2="416.4" stroke="#525252" stroke-width="1.0" />
<line x1="394.1" y1="287.4" x2="394.1" y2="416.4" stroke="#525252" stroke-width="1.0" />
<line x1="442.4" y1="287.4" x2="442.4" y2="416.4" stroke="#525252" stroke-width="1.0" />
<polyline points="491.6,287.4 491.6,389.7 540.2,389.7 540.2,287.4" stroke="#525252" stroke-width="1.0" fill="none" />
<line x1="516.0" y1="389.7" x2="516.0" y2="416.4" stroke="#525252" stroke-width="1.0" />
<polyline points="596.9,335.0 609.8,335.0 609.8,416.4" stroke="#525252" stroke-width="1.0" fill="none" />
<line x1="701.5" y1="324.4" x2="701.5" y2="416.4" stroke="#525252" stroke-width="1.0" />
<polyline points="645.8,308.6 645.8,390.1 800.2,390.1 800.2,308.6" stroke="#525252" stroke-width="1.0" fill="none" />
<line x1="723.1" y1="390.1" x2="723.1" y2="416.4" stroke="#525252" stroke-width="1.0" />
<polyline points="751.4,335.0 770.9,335.0 770.9,416.4" stroke="#525252" stroke-width="1.0" fill="none" />
<polyline points="898.3,340.0 898.3,391.0 883.1,391.0 883.1,416.4" stroke="#525252" stroke-width="1.0" fill="none" />
<line x1="921.6" y1="340.0" x2="921.6" y2="416.4" stroke="#525252" stroke-width="1.0" />
<polyline points="945.2,340.0 945.2,390.7 959.5,390.7 959.5,416.4" stroke="#525252" stroke-width="1.0" fill="none" />
<polyline points="935.6,306.4 988.3,306.4 988.3,416.4" stroke="#525252" stroke-width="1.0" fill="none" />
<text x="169.0" y="102.7" font-family='"Liberation Sans", Arial, sans-serif' font-size="25" font-weight="normal" fill="#111" text-anchor="middle" stroke="#111" stroke-width="0.25">1</text>
<text x="260.4" y="102.7" font-family='"Liberation Sans", Arial, sans-serif' font-size="25" font-weight="normal" fill="#111" text-anchor="middle" stroke="#111" stroke-width="0.25">17</text>
<text x="360.4" y="102.7" font-family='"Liberation Sans", Arial, sans-serif' font-size="25" font-weight="normal" fill="#111" text-anchor="middle" stroke="#111" stroke-width="0.25">16</text>
<rect x="161.8" y="99.2" width="6.1" height="5.2" rx="0" stroke="none" stroke-width="0" fill="#fff" />
<rect x="170.8" y="99.2" width="6.2" height="5.2" rx="0" stroke="none" stroke-width="0" fill="#fff" />
<rect x="245.8" y="99.2" width="6.1" height="5.2" rx="0" stroke="none" stroke-width="0" fill="#fff" />
<rect x="254.8" y="99.2" width="6.2" height="5.2" rx="0" stroke="none" stroke-width="0" fill="#fff" />
<rect x="345.79999999999995" y="99.2" width="6.1" height="5.2" rx="0" stroke="none" stroke-width="0" fill="#fff" />
<rect x="354.79999999999995" y="99.2" width="6.2" height="5.2" rx="0" stroke="none" stroke-width="0" fill="#fff" />
<text x="909.5" y="104.0" font-family='"Liberation Serif", "Times New Roman", serif' font-size="27.0" font-weight="normal" fill="#2a2a2a" text-anchor="start" textLength="27.0" lengthAdjust="spacingAndGlyphs" >15</text>
<text x="161.95" y="443.9" font-family='"Liberation Serif", "Times New Roman", serif' font-size="27.0" font-weight="normal" fill="#2a2a2a" text-anchor="start" textLength="12.1" lengthAdjust="spacingAndGlyphs" >2</text>
<text x="295.95" y="443.9" font-family='"Liberation Serif", "Times New Roman", serif' font-size="27.0" font-weight="normal" fill="#2a2a2a" text-anchor="start" textLength="12.1" lengthAdjust="spacingAndGlyphs" >3</text>
<text x="387.95" y="443.9" font-family='"Liberation Serif", "Times New Roman", serif' font-size="27.0" font-weight="normal" fill="#2a2a2a" text-anchor="start" textLength="12.1" lengthAdjust="spacingAndGlyphs" >4</text>
<text x="435.35" y="443.9" font-family='"Liberation Serif", "Times New Roman", serif' font-size="27.0" font-weight="normal" fill="#2a2a2a" text-anchor="start" textLength="12.1" lengthAdjust="spacingAndGlyphs" >5</text>
<text x="509.35" y="443.9" font-family='"Liberation Serif", "Times New Roman", serif' font-size="27.0" font-weight="normal" fill="#2a2a2a" text-anchor="start" textLength="12.1" lengthAdjust="spacingAndGlyphs" >6</text>
<text x="603.15" y="443.9" font-family='"Liberation Serif", "Times New Roman", serif' font-size="27.0" font-weight="normal" fill="#2a2a2a" text-anchor="start" textLength="12.1" lengthAdjust="spacingAndGlyphs" >7</text>
<text x="693.55" y="443.9" font-family='"Liberation Serif", "Times New Roman", serif' font-size="27.0" font-weight="normal" fill="#2a2a2a" text-anchor="start" textLength="12.1" lengthAdjust="spacingAndGlyphs" >8</text>
<text x="718.75" y="443.9" font-family='"Liberation Serif", "Times New Roman", serif' font-size="27.0" font-weight="normal" fill="#2a2a2a" text-anchor="start" textLength="12.1" lengthAdjust="spacingAndGlyphs" >9</text>
<text x="759.1" y="443.9" font-family='"Liberation Serif", "Times New Roman", serif' font-size="27.0" font-weight="normal" fill="#2a2a2a" text-anchor="start" textLength="27.0" lengthAdjust="spacingAndGlyphs" >10</text>
<text x="866.1" y="443.9" font-family='"Liberation Serif", "Times New Roman", serif' font-size="27.0" font-weight="normal" fill="#2a2a2a" text-anchor="start" textLength="27.0" lengthAdjust="spacingAndGlyphs" >11</text>
<text x="905.9" y="443.9" font-family='"Liberation Serif", "Times New Roman", serif' font-size="27.0" font-weight="normal" fill="#2a2a2a" text-anchor="start" textLength="27.0" lengthAdjust="spacingAndGlyphs" >12</text>
<text x="943.7" y="443.9" font-family='"Liberation Serif", "Times New Roman", serif' font-size="27.0" font-weight="normal" fill="#2a2a2a" text-anchor="start" textLength="27.0" lengthAdjust="spacingAndGlyphs" >13</text>
<text x="978.5" y="443.9" font-family='"Liberation Serif", "Times New Roman", serif' font-size="27.0" font-weight="normal" fill="#2a2a2a" text-anchor="start" textLength="27.0" lengthAdjust="spacingAndGlyphs" >14</text>
<text x="126.4" y="473.0" font-family='"Liberation Sans", Arial, sans-serif' font-size="14.3" font-weight="normal" fill="#222" text-anchor="start" textLength="126.1" lengthAdjust="spacingAndGlyphs" >1. DC +24 Power IN</text>
<text x="126.4" y="492.45" font-family='"Liberation Sans", Arial, sans-serif' font-size="14.3" font-weight="normal" fill="#222" text-anchor="start" textLength="119.8" lengthAdjust="spacingAndGlyphs" >2. Power IN Socket</text>
<text x="126.4" y="511.9" font-family='"Liberation Sans", Arial, sans-serif' font-size="14.3" font-weight="normal" fill="#222" text-anchor="start" textLength="360.0" lengthAdjust="spacingAndGlyphs" >3. Constant Resistance and constant voltage output end</text>
<text x="126.4" y="531.35" font-family='"Liberation Sans", Arial, sans-serif' font-size="14.3" font-weight="normal" fill="#222" text-anchor="start" textLength="216.3" lengthAdjust="spacingAndGlyphs" >4. Extended Preamplifier Interface</text>
<text x="126.4" y="550.8" font-family='"Liberation Sans", Arial, sans-serif' font-size="14.3" font-weight="normal" fill="#222" text-anchor="start" textLength="74.4" lengthAdjust="spacingAndGlyphs" >5. AUX OUT</text>
<text x="126.4" y="570.25" font-family='"Liberation Sans", Arial, sans-serif' font-size="14.3" font-weight="normal" fill="#222" text-anchor="start" textLength="155.3" lengthAdjust="spacingAndGlyphs" >6. AUX1 IN and AUX2 IN</text>
<text x="126.4" y="589.7" font-family='"Liberation Sans", Arial, sans-serif' font-size="14.3" font-weight="normal" fill="#222" text-anchor="start" textLength="209.7" lengthAdjust="spacingAndGlyphs" >7. Audio Source Selection Switch</text>
<text x="126.4" y="609.15" font-family='"Liberation Sans", Arial, sans-serif' font-size="14.3" font-weight="normal" fill="#222" text-anchor="start" textLength="126.1" lengthAdjust="spacingAndGlyphs" >8. MIC Gain Control</text>
<text x="126.4" y="628.6" font-family='"Liberation Sans", Arial, sans-serif' font-size="14.3" font-weight="normal" fill="#222" text-anchor="start" textLength="195.7" lengthAdjust="spacingAndGlyphs" >9. MIC2 and MIC3 Balanced IN</text>
<text x="575.0" y="476.2" font-family='"Liberation Sans", Arial, sans-serif' font-size="14.3" font-weight="normal" fill="#222" text-anchor="start" textLength="170.1" lengthAdjust="spacingAndGlyphs" >10. Phantom Power Switch</text>
<text x="575.0" y="495.7" font-family='"Liberation Sans", Arial, sans-serif' font-size="14.3" font-weight="normal" fill="#222" text-anchor="start" textLength="119.4" lengthAdjust="spacingAndGlyphs" >11. EMC Trigger IN</text>
<text x="575.0" y="515.2" font-family='"Liberation Sans", Arial, sans-serif' font-size="14.3" font-weight="normal" fill="#222" text-anchor="start" textLength="193.4" lengthAdjust="spacingAndGlyphs" >12. MUTE Short Circuit Trigger</text>
<text x="575.0" y="534.7" font-family='"Liberation Sans", Arial, sans-serif' font-size="14.3" font-weight="normal" fill="#222" text-anchor="start" textLength="194.0" lengthAdjust="spacingAndGlyphs" >13. SIREN Short Circuit Trigger</text>
<text x="575.0" y="554.2" font-family='"Liberation Sans", Arial, sans-serif' font-size="14.3" font-weight="normal" fill="#222" text-anchor="start" textLength="145.8" lengthAdjust="spacingAndGlyphs" >14. Alarm Gain Control</text>
<text x="575.0" y="573.7" font-family='"Liberation Sans", Arial, sans-serif' font-size="14.3" font-weight="normal" fill="#222" text-anchor="start" textLength="100.4" lengthAdjust="spacingAndGlyphs" >15. FM Antenna</text>
<text x="575.0" y="593.2" font-family='"Liberation Sans", Arial, sans-serif' font-size="14.3" font-weight="normal" fill="#222" text-anchor="start" textLength="319.4" lengthAdjust="spacingAndGlyphs" >16. Constant resistance &amp; constant voltage switch</text>
<text x="575.0" y="612.7" font-family='"Liberation Sans", Arial, sans-serif' font-size="14.3" font-weight="normal" fill="#222" text-anchor="start" textLength="129.6" lengthAdjust="spacingAndGlyphs" >17. AC Power Switch</text>
<text x="49.3" y="39.7" font-family='"Liberation Sans", Arial, sans-serif' font-size="24.6" font-weight="bold" fill="#c8103c" text-anchor="start" textLength="138.2" lengthAdjust="spacingAndGlyphs" stroke="#c8103c" stroke-width="0.55">REAR PANEL</text>
</svg>
</body>
</html>
